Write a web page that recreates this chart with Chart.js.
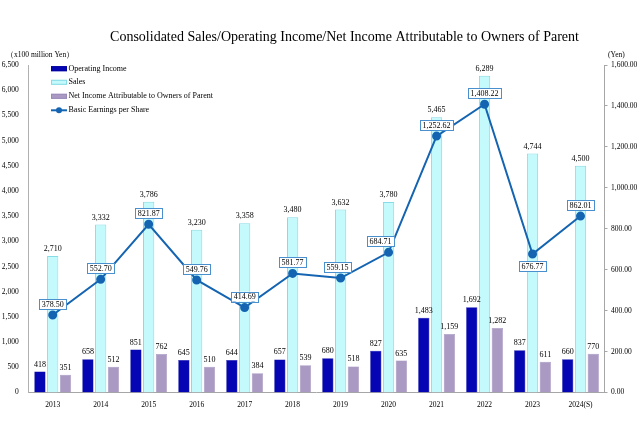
<!DOCTYPE html>
<html><head><meta charset="utf-8">
<script src="https://cdn.jsdelivr.net/npm/chart.js@4/dist/chart.umd.min.js"></script>
<style>html,body{margin:0;padding:0;background:#fff}#wrap{width:640px;height:426px}</style>
</head><body><div id="wrap"><canvas id="c" width="640" height="426"></canvas></div>
<script>
const years = ['2013','2014','2015','2016','2017','2018','2019','2020','2021','2022','2023','2024(S)'];
const operatingIncome = [418,658,851,645,644,657,680,827,1483,1692,837,660];
const sales = [2710,3332,3786,3230,3358,3480,3632,3780,5465,6289,4744,4500];
const netIncome = [351,512,762,510,384,539,518,635,1159,1282,611,770];
const eps = [378.50,552.70,821.87,549.76,414.69,581.77,559.15,684.71,1252.62,1408.22,676.77,862.01];
const leftAxis = {min:0, max:6500, step:500};
const rightAxis = {min:0, max:1600, step:200};
const titleText = 'Consolidated Sales/Operating Income/Net Income Attributable to Owners of Parent';
const leftUnit = '\uFF08x100 million Yen\uFF09';
const rightUnit = '(Yen)';

const SERIF = "'Liberation Serif','Times New Roman',serif";
const fmtInt = v => v.toLocaleString('en-US');
const fmtDec = v => v.toLocaleString('en-US',{minimumFractionDigits:2,maximumFractionDigits:2});

const C_OP = '#0505b4', C_SALES = '#c4fafb', C_SALES_B = '#86dbe6', C_NET = '#a999c3', C_EPS = '#1464b2';

const decorPlugin = {
  id:'decor',
  afterDraw(chart, args, opts){
    const ctx = chart.ctx;
    ctx.save();
    ctx.fillStyle = '#000';
    ctx.textBaseline = 'middle';
    // title
    ctx.font = '14px ' + SERIF;
    ctx.textAlign = 'center';
    ctx.fillText(titleText, 344.5, 37);
    // units
    ctx.font = '7.5px ' + SERIF;
    ctx.textAlign = 'left';
    ctx.fillText(leftUnit, 6, 55);
    ctx.fillText(rightUnit, 608, 55);
    // legend
    const items = chart.data.datasets.map(d => d).sort((a,b)=>a.legendIndex-b.legendIndex);
    const ys = [68.7, 82.3, 96.3, 110.3];
    items.forEach((d,i)=>{
      const y = ys[i];
      if (d.type === 'line'){
        ctx.strokeStyle = d.borderColor; ctx.lineWidth = 2;
        ctx.beginPath(); ctx.moveTo(51,y); ctx.lineTo(67,y); ctx.stroke();
        ctx.fillStyle = d.borderColor;
        ctx.beginPath(); ctx.arc(59,y,3,0,Math.PI*2); ctx.fill();
      } else {
        ctx.fillStyle = d.backgroundColor;
        ctx.fillRect(51,y-2.5,16,5);
        ctx.strokeStyle = d.borderColor; ctx.lineWidth = 1;
        ctx.strokeRect(51.5,y-2,15,4);
      }
      ctx.fillStyle = '#000';
      ctx.font = '8px ' + SERIF;
      ctx.textAlign = 'left';
      ctx.fillText(d.label, 68.5, y);
    });
    ctx.restore();
  },
  afterDatasetsDraw(chart, args, opts){
    const ctx = chart.ctx;
    ctx.save();
    ctx.font = '8px ' + SERIF;
    ctx.textAlign = 'center';
    ctx.textBaseline = 'middle';
    chart.data.datasets.forEach((d,di)=>{
      const meta = chart.getDatasetMeta(di);
      meta.data.forEach((el,i)=>{
        const v = d.data[i];
        if (d.type === 'line'){
          const txt = fmtDec(v);
          const w = ctx.measureText(txt).width + 5, h = 10;
          const below = (opts.below || []).includes(i);
          const dx = (opts.dx && opts.dx[i]) || 0;
          const cx = el.x + dx, cy = below ? el.y + 12 : el.y - 11;
          ctx.fillStyle = '#fff';
          ctx.fillRect(cx-w/2, cy-h/2, w, h);
          ctx.strokeStyle = '#4a90cf'; ctx.lineWidth = 1;
          ctx.strokeRect(Math.round(cx-w/2)+0.5, Math.round(cy-h/2)+0.5, Math.round(w), h);
          ctx.fillStyle = '#000';
          ctx.fillText(txt, cx, cy+0.5);
        } else {
          ctx.fillStyle = '#000';
          ctx.fillText(fmtInt(v), el.x, el.y - 7);
        }
      });
    });
    ctx.restore();
  }
};

new Chart(document.getElementById('c'), {
  data: {
    labels: years,
    datasets: [
      {type:'line', label:'Basic Earnings per Share', data: eps, yAxisID:'y1', order:0, legendIndex:3,
       borderColor:C_EPS, backgroundColor:C_EPS, borderWidth:2, pointRadius:3.5, pointBackgroundColor:C_EPS,
       pointBorderColor:C_EPS, tension:0, fill:false},
      {type:'bar', label:'Operating Income', data: operatingIncome, yAxisID:'y', order:1, legendIndex:0,
       backgroundColor:C_OP, borderColor:'#0000a0', borderWidth:0.5},
      {type:'bar', label:'Sales', data: sales, yAxisID:'y', order:1, legendIndex:1,
       backgroundColor:C_SALES, borderColor:C_SALES_B, borderWidth:1},
      {type:'bar', label:'Net Income Attributable to Owners of Parent', data: netIncome, yAxisID:'y', order:1, legendIndex:2,
       backgroundColor:C_NET, borderColor:'#9a8ab8', borderWidth:0.5}
    ]
  },
  options: {
    responsive:false, animation:false, devicePixelRatio:1,
    datasets:{bar:{categoryPercentage:0.8, barPercentage:0.88}},
    layout:{padding:{top:65,left:0,right:0,bottom:0}},
    plugins:{legend:{display:false}, title:{display:false}, tooltip:{enabled:false},
      decor:{below:[10], dx:{6:-3,7:-8}}},
    scales:{
      x:{grid:{display:false, drawTicks:false, tickLength:0}, border:{display:true,color:'#a6a6a6',width:1},
         ticks:{font:{family:SERIF,size:7.5}, color:'#000', padding:8, maxRotation:0, autoSkip:false},
         afterFit(s){ s.height = 33.5; }},
      y:{position:'left', min:leftAxis.min, max:leftAxis.max,
         grid:{display:false, drawTicks:false, tickLength:0}, border:{display:true,color:'#b0b0b0',width:1},
         ticks:{stepSize:leftAxis.step, font:{family:SERIF,size:7.5}, color:'#000', padding:10,
                callback:v=>fmtInt(v)},
         afterFit(s){ s.width = 28.7; }},
      y1:{position:'right', min:rightAxis.min, max:rightAxis.max,
         grid:{display:true, drawOnChartArea:false, drawTicks:true, tickLength:3, color:'#a6a6a6'},
         border:{display:true,color:'#a6a6a6',width:1},
         ticks:{stepSize:rightAxis.step, font:{family:SERIF,size:7.5}, color:'#000', padding:3.5,
                callback:v=>fmtDec(v)},
         afterFit(s){ s.width = 35.5; }}
    }
  },
  plugins:[decorPlugin]
});
</script></body></html>
